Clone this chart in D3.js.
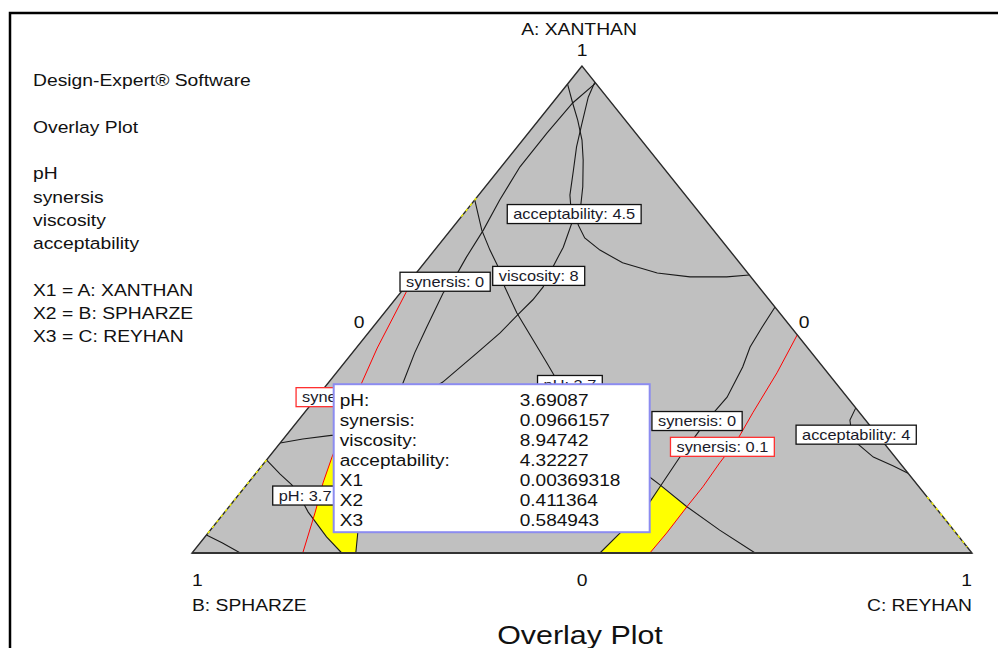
<!DOCTYPE html>
<html><head><meta charset="utf-8">
<script src="https://cdn.jsdelivr.net/npm/d3@7"></script>
<style>body{margin:0;background:#fff;} svg{display:block;}</style>
</head><body>
<svg id="chart" width="998" height="648"></svg>
<script>
// ---------------- data (compositions are [A: XANTHAN, B: SPHARZE, C: REYHAN]) ----------------
const vertexNames = ["A: XANTHAN", "B: SPHARZE", "C: REYHAN"];
const vertexTicks = ["1", "1", "1"];
const edgeTicks = ["0", "0", "0"];
const infoLines = ["Design-Expert\u00AE Software", "", "Overlay Plot", "", "pH", "synersis", "viscosity", "acceptability", "", "X1 = A: XANTHAN", "X2 = B: SPHARZE", "X3 = C: REYHAN"];
const plotTitle = "Overlay Plot";

const acceptability45 = [[0.963,0.037,0.000],[0.924,0.050,0.026],[0.889,0.061,0.050],[0.848,0.076,0.076],[0.807,0.095,0.098],[0.752,0.123,0.125],[0.715,0.144,0.141],[0.674,0.168,0.158],[0.647,0.173,0.180],[0.622,0.166,0.212],[0.596,0.150,0.254],[0.575,0.116,0.309],[0.567,0.078,0.355],[0.567,0.031,0.402],[0.571,0.000,0.429]];
const viscosity8 = [[0.967,0.000,0.033],[0.936,0.024,0.040],[0.879,0.061,0.060],[0.834,0.090,0.076],[0.786,0.118,0.096],[0.735,0.148,0.117],[0.704,0.162,0.134],[0.678,0.174,0.148],[0.628,0.210,0.162],[0.587,0.244,0.169],[0.546,0.277,0.177],[0.520,0.303,0.177],[0.489,0.338,0.173],[0.452,0.379,0.169],[0.411,0.429,0.160],[0.351,0.503,0.146],[0.294,0.587,0.119],[0.259,0.655,0.086],[0.242,0.698,0.060],[0.234,0.741,0.025],[0.226,0.774,0.000]];
const synersis0Left = [[0.965,0.000,0.035],[0.924,0.050,0.026],[0.862,0.114,0.024],[0.793,0.183,0.024],[0.725,0.243,0.032],[0.663,0.295,0.042],[0.608,0.344,0.048],[0.567,0.379,0.054],[0.534,0.411,0.055],[0.464,0.467,0.069],[0.411,0.509,0.080],[0.349,0.555,0.096],[0.253,0.626,0.121],[0.150,0.697,0.153],[0.041,0.767,0.192],[0.000,0.790,0.210]];
const pH37Right = [[0.725,0.275,0.000],[0.663,0.297,0.040],[0.622,0.307,0.071],[0.591,0.313,0.096],[0.546,0.326,0.128],[0.493,0.337,0.170],[0.437,0.344,0.219],[0.390,0.350,0.260],[0.345,0.356,0.299],[0.273,0.353,0.374],[0.212,0.345,0.443],[0.158,0.336,0.506],[0.140,0.330,0.530],[0.095,0.318,0.587],[0.047,0.300,0.653],[0.000,0.278,0.722]];
const pH37Left = [[0.191,0.809,0.000],[0.162,0.806,0.032],[0.140,0.802,0.058],[0.115,0.804,0.081],[0.084,0.809,0.107],[0.033,0.811,0.156],[0.000,0.808,0.192]];
const cornerContour = [[0.037,0.963,0.000],[0.021,0.951,0.028],[0.000,0.938,0.062]];
const synersis0Right = [[0.505,0.000,0.495],[0.464,0.037,0.499],[0.423,0.073,0.504],[0.382,0.103,0.515],[0.320,0.154,0.526],[0.273,0.203,0.524],[0.197,0.276,0.527],[0.136,0.332,0.532],[0.099,0.366,0.535],[0.047,0.424,0.529],[0.000,0.477,0.523]];
const synersis01Right = [[0.448,0.000,0.552],[0.370,0.065,0.565],[0.288,0.137,0.575],[0.232,0.185,0.583],[0.185,0.231,0.584],[0.136,0.277,0.587],[0.095,0.318,0.587],[0.041,0.371,0.588],[0.000,0.413,0.587]];
const synersis01Left = [[0.561,0.439,0.000],[0.540,0.454,0.006],[0.421,0.552,0.027],[0.349,0.608,0.043],[0.197,0.722,0.081],[0.144,0.760,0.096],[0.084,0.800,0.116],[0.000,0.858,0.142]];
const acceptability4 = [[0.298,0.000,0.702],[0.273,0.020,0.707],[0.242,0.033,0.725],[0.226,0.035,0.739],[0.197,0.028,0.775],[0.179,0.012,0.809],[0.164,0.000,0.836]];

const contourKeys = ["acceptability 4.5","viscosity 8","synersis 0","pH 3.7","pH 3.7","other","synersis 0","synersis 0.1","synersis 0.1","acceptability 4"];
const contourLines = [acceptability45, viscosity8, synersis0Left, pH37Right, pH37Left, cornerContour, synersis0Right, synersis01Right, synersis01Left, acceptability4];

const feasibleLeft = [[0.249,0.682,0.069],[0.197,0.722,0.081],[0.144,0.760,0.096],[0.072,0.809,0.119],[0.033,0.811,0.156],[0.000,0.808,0.192],[0.000,0.790,0.210],[0.041,0.767,0.192],[0.150,0.697,0.153],[0.253,0.626,0.121],[0.283,0.605,0.112],[0.259,0.655,0.086]];
const feasibleRight = [[0.000,0.477,0.523],[0.047,0.424,0.529],[0.099,0.366,0.535],[0.138,0.331,0.531],[0.095,0.318,0.587],[0.041,0.371,0.588],[0.000,0.413,0.587]];
const feasibleEdges = [[[0.729,0.271,0],[0.690,0.310,0]], [[0.191,0.809,0],[0.037,0.963,0]], [[0.115,0,0.885],[0.012,0,0.988]]];

const labelTexts = ["acceptability: 4.5","viscosity: 8","synersis: 0","pH: 3.7","synersis: 0.1","pH: 3.7","synersis: 0","synersis: 0.1","acceptability: 4"];
const labelAnchors = [[0.696,0.162,0.142],[0.569,0.271,0.160],[0.557,0.397,0.046],[0.345,0.343,0.312],[0.320,0.640,0.040],[0.118,0.796,0.086],[0.271,0.217,0.512],[0.218,0.211,0.571],[0.243,0.027,0.730]];

const tooltipNames = ["pH:","synersis:","viscosity:","acceptability:","X1","X2","X3"];
const tooltipValues = ["3.69087","0.0966157","8.94742","4.32227","0.00369318","0.411364","0.584943"];
const cursorPoint = [0.00369318, 0.411364, 0.584943];

// ---------------- drawing ----------------
const SX = 1.17;
const FONT = '"Liberation Sans", Arial, Helvetica, sans-serif';
const svg = d3.select("#chart");
const x = d3.scaleLinear().domain([-1, 1]).range([192, 972]);
const y = d3.scaleLinear().domain([0, 1]).range([553, 66]);
function P(p){ const s = p[0]+p[1]+p[2]; return [x((p[2]-p[1])/s), y(p[0]/s)]; }
function txt(g, px, py, str, size, anchor, fill){
  return g.append("text").attr("transform", `translate(${px},${py}) scale(${SX},1)`)
    .attr("font-size", size).attr("font-family", FONT)
    .attr("text-anchor", anchor || "start").attr("fill", fill || "#111").text(str);
}
const line = d3.line().x(d => P(d)[0]).y(d => P(d)[1]);

// frame
svg.append("path").attr("d", "M10,648V13H998").attr("fill", "none").attr("stroke", "#000").attr("stroke-width", 2.5);

// info block
infoLines.forEach((s, i) => { if (s) txt(svg, 33, 86 + i * 23.3, s, 16.5); });

// triangle
const verts = [[1,0,0],[0,1,0],[0,0,1]];
svg.append("path").attr("d", line(verts) + "Z").attr("fill", "#c0c0c0");

// feasible regions
[feasibleLeft, feasibleRight].forEach(poly => {
  svg.append("path").attr("d", line(poly) + "Z").attr("fill", "#ffff00").attr("stroke", "none");
});

// contours
contourLines.forEach((pts, i) => {
  const red = contourKeys[i] === "synersis 0.1";
  svg.append("path").attr("d", line(pts)).attr("fill", "none")
    .attr("stroke", red ? "#ff0000" : "#1a1a1a").attr("stroke-width", red ? 1 : 1.1);
});

// triangle outline
svg.append("path").attr("d", line(verts) + "Z").attr("fill", "none").attr("stroke", "#2a2a2a").attr("stroke-width", 1.4);
svg.append("path").attr("d", line([verts[1], verts[2]])).attr("fill", "none").attr("stroke", "#333").attr("stroke-width", 2.2);

// feasible edge dashes
feasibleEdges.forEach(seg => {
  svg.append("path").attr("d", line(seg)).attr("stroke", "#ffff00").attr("stroke-width", 1.3).attr("stroke-dasharray", "3,4").attr("fill", "none");
});

// contour labels
labelTexts.forEach((s, i) => {
  const red = s === "synersis: 0.1";
  const [cx, cy] = P(labelAnchors[i]);
  const g = svg.append("g").attr("transform", `translate(${cx},${cy})`);
  const r = g.append("rect").attr("fill", "#fff").attr("stroke", red ? "#ff3030" : "#111").attr("stroke-width", 1.3);
  const t = txt(g, 0, 5, s, 14, "middle", "#1a1a2a");
  const w = t.node().getComputedTextLength() * SX;
  r.attr("x", -w/2 - 6).attr("y", -9.5).attr("width", w + 12).attr("height", 19);
});

// axis texts
const [Ax, Ay] = P(verts[0]), [Bx, By] = P(verts[1]), [Cx, Cy] = P(verts[2]);
txt(svg, Ax - 3, Ay - 31, vertexNames[0], 16.5, "middle");
txt(svg, Ax, Ay - 10, vertexTicks[0], 16.5, "middle");
txt(svg, Bx, By + 33, vertexTicks[1], 16.5, "start");
txt(svg, Bx, By + 58, vertexNames[1], 16.5, "start");
txt(svg, Cx, Cy + 33, vertexTicks[2], 16.5, "end");
txt(svg, Cx, Cy + 58, vertexNames[2], 16.5, "end");
const mL = P([0.5,0.5,0]), mR = P([0.5,0,0.5]), mB = P([0,0.5,0.5]);
txt(svg, mL[0] - 28, mL[1] + 18.5, edgeTicks[0], 16.5, "middle");
txt(svg, mR[0] + 27, mR[1] + 18.5, edgeTicks[1], 16.5, "middle");
txt(svg, mB[0], mB[1] + 33, edgeTicks[2], 16.5, "middle");
txt(svg, 580, 644, plotTitle, 26, "middle");

// tooltip
const [kx, ky] = P(cursorPoint);
const tw = 316, th = 148;
const tg = svg.append("g").attr("transform", `translate(${kx - tw},${ky - 19 - th})`);
tg.append("rect").attr("x", 0).attr("y", 0).attr("width", tw).attr("height", th)
  .attr("fill", "#fff").attr("stroke", "#8c8cf0").attr("stroke-width", 2);
tooltipNames.forEach((s, i) => {
  txt(tg, 6, 22 + i * 20, s, 16.3, "start", "#111");
  txt(tg, 186, 22 + i * 20, tooltipValues[i], 16.3, "start", "#111");
});
</script>
</body></html>
